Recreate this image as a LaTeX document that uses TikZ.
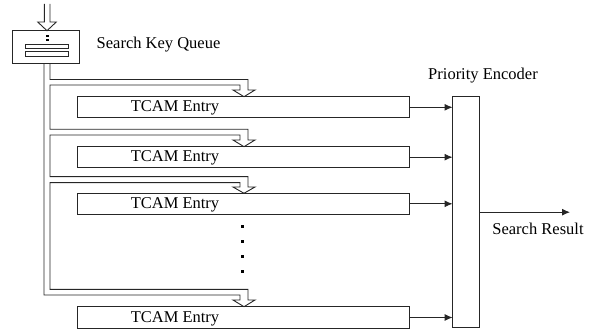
\documentclass[tikz,border=0pt]{standalone}
\usepackage{fontspec}
\setmainfont{Liberation Serif}
\usetikzlibrary{arrows.meta}
\begin{document}
\begin{tikzpicture}[x=1pt,y=-1pt,
  ln/.style={line width=0.9pt,draw=black!85},
  entry/.style={ln,rectangle,minimum width=332pt,minimum height=21.3pt,inner sep=0pt,outer sep=0pt},
  lbl/.style={font=\fontsize{16.5}{19}\selectfont,inner sep=0pt,anchor=base},
  arr/.style={ln,-{Latex[length=8pt,width=7pt]}},
  dotsq/.style={fill=black,draw=none,minimum width=3.6pt,minimum height=3.2pt,inner sep=0pt}]
\useasboundingbox (0,0) rectangle (597,331);
% input hollow arrow
\draw[ln,line join=miter] (44.3,4) -- (44.3,22) -- (37.7,22) -- (47,30.7) -- (56.3,22) -- (50,22) -- (50,4);
% search key queue
\node[ln,rectangle,minimum width=66.6pt,minimum height=32.6pt,inner sep=0pt,outer sep=0pt] (q) at (46,47) {};
\fill[black] (45.6,35) rectangle (49,37.2);
\fill[black] (45.6,38.8) rectangle (49,41);
\draw[ln] (25,44.3) rectangle (68,48.3);
\draw[ln] (25,51.7) rectangle (68,56);
\node[lbl,anchor=base west] (ql) at (96.5,48.3) {Search Key Queue};
% distribution pipe
\draw[ln,line join=miter]
  (50,63.3) -- (50,79.5) -- (248,79.5) -- (248,90) -- (255,90) -- (244,96.7) -- (233,90) -- (240,90) -- (240,85) -- (50,85)
  -- (50,129.3) -- (248,129.3) -- (248,140) -- (255,140) -- (244,146.7) -- (233,140) -- (240,140) -- (240,135) -- (50,135)
  -- (50,176.7) -- (248,176.7) -- (248,187) -- (255,187) -- (244,193.3) -- (233,187) -- (240,187) -- (240,182.7) -- (50,182.7)
  -- (50,289.3) -- (248,289.3) -- (248,300) -- (255,300) -- (244,306.7) -- (233,300) -- (240,300) -- (240,295) -- (44,295)
  -- (44,63.3);
% TCAM entries
\node[entry] (e1) at (243,107.3) {};
\node[entry] (e2) at (243,157.2) {};
\node[entry] (e3) at (243,203.8) {};
\node[entry] (e4) at (243,317.5) {};
\node[lbl] (t1) at (175,111.8) {TCAM Entry};
\node[lbl] (t2) at (175,161.7) {TCAM Entry};
\node[lbl] (t3) at (175,208.3) {TCAM Entry};
\node[lbl] (t4) at (175,322) {TCAM Entry};
% dots
\node[dotsq] (d1) at (242.3,226.7) {};
\node[dotsq] (d2) at (242.3,241.5) {};
\node[dotsq] (d3) at (242.3,256.7) {};
\node[dotsq] (d4) at (242.3,271.7) {};
% priority encoder
\node[ln,rectangle,minimum width=26.5pt,minimum height=231pt,inner sep=0pt,outer sep=0pt] (enc) at (465.8,212.2) {};
\node[lbl] (el) at (483,79.5) {Priority Encoder};
\draw[arr] (e1.east) -- (enc.west |- e1.east);
\draw[arr] (e2.east) -- (enc.west |- e2.east);
\draw[arr] (e3.east) -- (enc.west |- e3.east);
\draw[arr] (e4.east) -- (enc.west |- e4.east);
\coordinate (out) at (570,212.2);
\draw[arr] (enc.east) -- (out);
\node[lbl] (rl) at (538,234) {Search Result};
\end{tikzpicture}
\end{document}
